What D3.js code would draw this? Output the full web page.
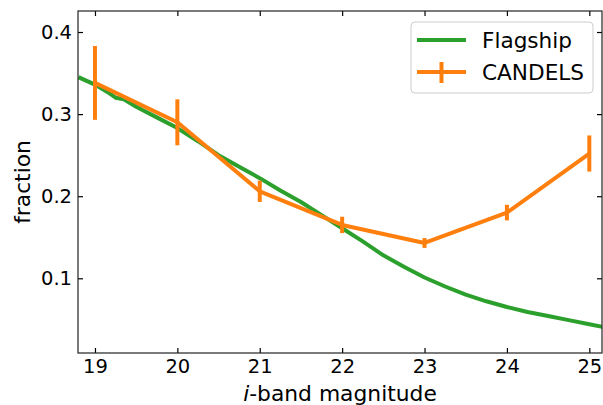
<!DOCTYPE html>
<html><head><meta charset="utf-8">
<script src="https://cdn.jsdelivr.net/npm/d3@7"></script>
<style>body{margin:0;background:#fff}svg{display:block}text{font-family:"DejaVu Sans",sans-serif}</style>
</head><body><svg id="c" width="603" height="405"></svg>
<script>
const flagshipMag = [18.8,19.0,19.15,19.25,19.35,19.5,19.75,20.0,20.25,20.5,20.75,21.0,21.25,21.5,21.75,22.0,22.25,22.5,22.75,23.0,23.25,23.5,23.75,24.0,24.25,24.5,24.75,25.0,25.25];
const flagshipFrac = [0.345,0.336,0.327,0.320,0.318,0.309,0.296,0.283,0.267,0.250,0.236,0.222,0.207,0.193,0.177,0.161,0.145,0.128,0.114,0.101,0.090,0.080,0.072,0.065,0.059,0.054,0.049,0.044,0.039];
const candelsMag = [19,20,21,22,23,24,25];
const candelsFrac = [0.338,0.290,0.206,0.165,0.143,0.180,0.252];
const candelsErr = [0.045,0.028,0.013,0.010,0.006,0.0095,0.022];
const xTicks = [19,20,21,22,23,24,25];
const yTicks = [0.1,0.2,0.3,0.4];

const svg = d3.select("#c");
const L=78,T=11,R=602,B=353;
const x = d3.scaleLinear().domain([18.794,25.154]).range([L,R]);
const y = d3.scaleLinear().domain([0.009,0.4256]).range([B,T]);
const green="#2ca02c", orange="#ff7f0e";

const defs = svg.append("defs");
defs.append("clipPath").attr("id","clip").append("rect").attr("x",L).attr("y",T).attr("width",R-L).attr("height",B-T);
const plot = svg.append("g").attr("clip-path","url(#clip)");

const line = d3.line().x(d=>x(d[0])).y(d=>y(d[1]));
plot.append("path").datum(flagshipMag.map((m,i)=>[m,flagshipFrac[i]]))
  .attr("d",line).attr("fill","none").attr("stroke",green).attr("stroke-width",4).attr("stroke-linejoin","round");
plot.append("path").datum(candelsMag.map((m,i)=>[m,candelsFrac[i]]))
  .attr("d",line).attr("fill","none").attr("stroke",orange).attr("stroke-width",4).attr("stroke-linejoin","round");
plot.selectAll(".err").data(candelsMag).enter().append("line")
  .attr("x1",d=>x(d)).attr("x2",d=>x(d))
  .attr("y1",(d,i)=>y(candelsFrac[i]-candelsErr[i])).attr("y2",(d,i)=>y(candelsFrac[i]+candelsErr[i]))
  .attr("stroke",orange).attr("stroke-width",4);

// axes
const tl=5;
const xb = d3.axisBottom(x).tickValues(xTicks).tickSize(-tl).tickPadding(6).tickFormat(d3.format("d"));
const xt = d3.axisTop(x).tickValues(xTicks).tickSize(-tl).tickFormat("");
const yl = d3.axisLeft(y).tickValues(yTicks).tickSize(-tl).tickPadding(6).tickFormat(d3.format(".1f"));
const yr = d3.axisRight(y).tickValues(yTicks).tickSize(-tl).tickFormat("");
function style(g){g.selectAll(".domain").remove();g.selectAll("line").attr("stroke","#000").attr("stroke-width",1.2);g.selectAll("text").attr("font-size",19.5).attr("fill","#000").attr("font-family","DejaVu Sans");}
svg.append("g").attr("transform",`translate(0,${B})`).call(xb).call(style);
svg.append("g").attr("transform",`translate(0,${T})`).call(xt).call(style);
svg.append("g").attr("transform",`translate(${L},0)`).call(yl).call(style);
svg.append("g").attr("transform",`translate(${R},0)`).call(yr).call(style);
svg.append("rect").attr("x",L).attr("y",T).attr("width",R-L).attr("height",B-T).attr("fill","none").attr("stroke","#222").attr("stroke-width",1.2);

// labels
const xl = svg.append("text").attr("x",(L+R)/2).attr("y",401).attr("text-anchor","middle").attr("font-size",21.8).attr("fill","#000");
xl.append("tspan").attr("font-style","italic").text("i");
xl.append("tspan").text("-band magnitude");
svg.append("text").attr("transform",`translate(30,${(T+B)/2}) rotate(-90)`).attr("text-anchor","middle").attr("font-size",21.8).attr("fill","#000").text("fraction");

// legend
const lg = svg.append("g");
lg.append("rect").attr("x",411).attr("y",22).attr("width",182).attr("height",71).attr("rx",4).attr("fill","#fff").attr("fill-opacity",0.8).attr("stroke","#ccc").attr("stroke-width",1);
lg.append("line").attr("x1",417).attr("x2",466).attr("y1",40).attr("y2",40).attr("stroke",green).attr("stroke-width",4);
lg.append("line").attr("x1",417).attr("x2",466).attr("y1",72).attr("y2",72).attr("stroke",orange).attr("stroke-width",4);
lg.append("line").attr("x1",441.5).attr("x2",441.5).attr("y1",62).attr("y2",83).attr("stroke",orange).attr("stroke-width",4);
lg.append("text").attr("x",482).attr("y",48).attr("font-size",21.6).attr("fill","#000").text("Flagship");
lg.append("text").attr("x",482).attr("y",80).attr("font-size",21.6).attr("fill","#000").text("CANDELS");
</script></body></html>
